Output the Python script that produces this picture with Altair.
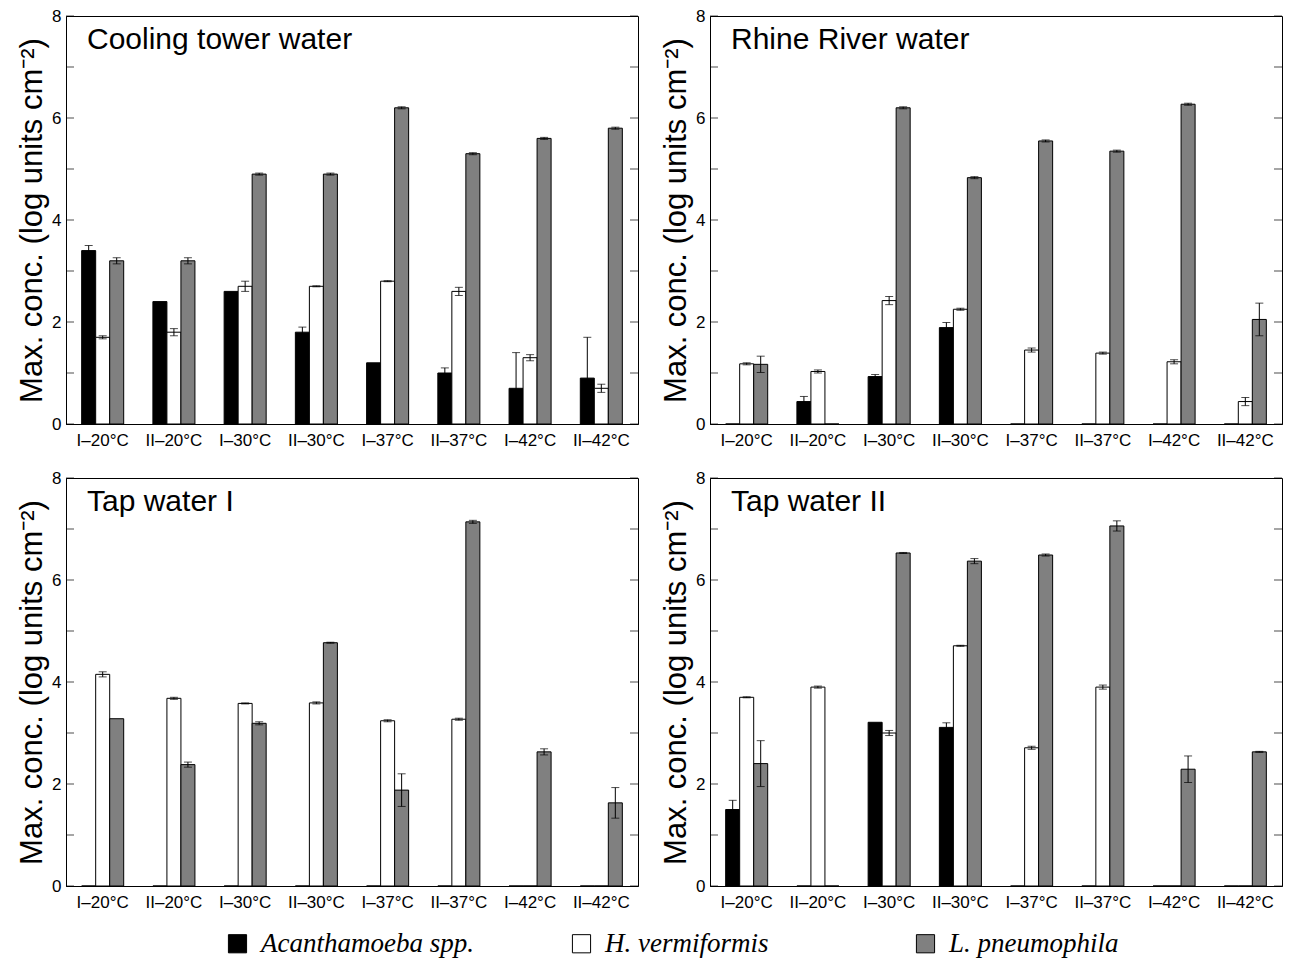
import altair as alt
import pandas as pd

temps = ["I–20°C", "II–20°C", "I–30°C", "II–30°C", "I–37°C", "II–37°C", "I–42°C", "II–42°C"]
species = ["Acanthamoeba spp.", "H. vermiformis", "L. pneumophila"]
panels = ["Cooling tower water", "Rhine River water", "Tap water I", "Tap water II"]
fills = ["#000000", "#ffffff", "#808080"]

cooling_acanth = [3.40, 2.40, 2.60, 1.80, 1.20, 1.00, 0.70, 0.90]
cooling_acanth_err = [0.10, 0.00, 0.00, 0.10, 0.00, 0.10, 0.70, 0.80]
cooling_hverm = [1.70, 1.80, 2.70, 2.70, 2.80, 2.60, 1.30, 0.70]
cooling_hverm_err = [0.03, 0.07, 0.10, 0.01, 0.01, 0.08, 0.06, 0.08]
cooling_lpneu = [3.20, 3.20, 4.90, 4.90, 6.20, 5.30, 5.60, 5.80]
cooling_lpneu_err = [0.06, 0.06, 0.02, 0.02, 0.02, 0.02, 0.02, 0.02]

rhine_acanth = [0.00, 0.44, 0.93, 1.89, 0.00, 0.00, 0.00, 0.00]
rhine_acanth_err = [0.00, 0.10, 0.04, 0.10, 0.00, 0.00, 0.00, 0.00]
rhine_hverm = [1.18, 1.03, 2.42, 2.25, 1.45, 1.39, 1.22, 0.44]
rhine_hverm_err = [0.02, 0.03, 0.08, 0.02, 0.04, 0.02, 0.04, 0.08]
rhine_lpneu = [1.17, 0.00, 6.20, 4.83, 5.55, 5.35, 6.27, 2.05]
rhine_lpneu_err = [0.16, 0.00, 0.02, 0.02, 0.02, 0.02, 0.02, 0.32]

tap1_acanth = [0.00, 0.00, 0.00, 0.00, 0.00, 0.00, 0.00, 0.00]
tap1_acanth_err = [0.00, 0.00, 0.00, 0.00, 0.00, 0.00, 0.00, 0.00]
tap1_hverm = [4.15, 3.68, 3.58, 3.59, 3.24, 3.27, 0.00, 0.00]
tap1_hverm_err = [0.05, 0.02, 0.01, 0.02, 0.02, 0.02, 0.00, 0.00]
tap1_lpneu = [3.28, 2.38, 3.19, 4.77, 1.88, 7.14, 2.63, 1.63]
tap1_lpneu_err = [0.00, 0.05, 0.03, 0.01, 0.32, 0.03, 0.06, 0.30]

tap2_acanth = [1.50, 0.00, 3.21, 3.11, 0.00, 0.00, 0.00, 0.00]
tap2_acanth_err = [0.18, 0.00, 0.00, 0.09, 0.00, 0.00, 0.00, 0.00]
tap2_hverm = [3.70, 3.90, 3.00, 4.71, 2.71, 3.90, 0.00, 0.00]
tap2_hverm_err = [0.01, 0.02, 0.05, 0.01, 0.03, 0.04, 0.00, 0.00]
tap2_lpneu = [2.40, 0.00, 6.53, 6.37, 6.49, 7.06, 2.29, 2.63]
tap2_lpneu_err = [0.45, 0.00, 0.01, 0.05, 0.02, 0.10, 0.26, 0.01]

y_tick_values = [0, 1, 2, 3, 4, 5, 6, 7, 8]

series = {
    panels[0]: [(cooling_acanth, cooling_acanth_err), (cooling_hverm, cooling_hverm_err), (cooling_lpneu, cooling_lpneu_err)],
    panels[1]: [(rhine_acanth, rhine_acanth_err), (rhine_hverm, rhine_hverm_err), (rhine_lpneu, rhine_lpneu_err)],
    panels[2]: [(tap1_acanth, tap1_acanth_err), (tap1_hverm, tap1_hverm_err), (tap1_lpneu, tap1_lpneu_err)],
    panels[3]: [(tap2_acanth, tap2_acanth_err), (tap2_hverm, tap2_hverm_err), (tap2_lpneu, tap2_lpneu_err)],
}

rows = []
for p in panels:
    for sp, (vals, errs) in zip(species, series[p]):
        for t, v, e in zip(temps, vals, errs):
            rows.append({"panel": p, "temp": t, "species": sp, "value": v, "err": e,
                         "lo": v - e, "hi": v + e})
df = pd.DataFrame(rows)
ticks_df = pd.DataFrame({"v": y_tick_values})

FONT = "Liberation Sans"
W, H = 572, 408
TICK = 8

x_enc = alt.X("temp:N", sort=temps,
              scale=alt.Scale(paddingInner=0.41, paddingOuter=0.22),
              axis=alt.Axis(title=None, labelAngle=0, labelFontSize=17, labelFont=FONT,
                            labelColor="black", tickSize=0, labelPadding=8,
                            domainColor="black"))
xo_enc = alt.XOffset("species:N", sort=species, scale=alt.Scale(domain=species))
y_scale = alt.Scale(domain=[0, 8], nice=False)


def panel(name):
    base = alt.Chart(df).transform_filter(alt.datum.panel == name)
    bars = base.mark_bar(stroke="black", strokeWidth=1).encode(
        x=x_enc,
        xOffset=xo_enc,
        y=alt.Y("value:Q", scale=y_scale,
                axis=alt.Axis(title="Max. conc. (log units cm⁻²)", values=y_tick_values,
                              labelExpr="datum.value % 2 == 0 ? datum.label : ''",
                              tickSize=0, grid=False, labelFontSize=17, labelFont=FONT,
                              labelColor="black", labelPadding=5, titleFont=FONT,
                              titleFontSize=31, titleFontWeight="normal", titleColor="black",
                              titlePadding=3, domainColor="black")),
        fill=alt.Fill("species:N", sort=species,
                      scale=alt.Scale(domain=species, range=fills),
                      legend=alt.Legend(title=None, orient="none", direction="horizontal",
                                        legendX=158, legendY=914, symbolType="square",
                                        symbolSize=330, symbolStrokeColor="black",
                                        symbolStrokeWidth=1, labelFont="Liberation Serif",
                                        labelFontStyle="italic", labelFontSize=27,
                                        labelColor="black", labelOffset=10,
                                        gridAlign="all", columnPadding=94,
                                        labelLimit=400, padding=0)),
    )
    eb = base.transform_filter(alt.datum.err > 0)
    rule = eb.mark_rule(color="black", strokeWidth=1).encode(
        x=x_enc, xOffset=xo_enc, y=alt.Y("lo:Q", scale=y_scale), y2="hi:Q")
    cap_hi = eb.mark_tick(color="black", orient="horizontal", size=8, thickness=1).encode(
        x=x_enc, xOffset=xo_enc, y=alt.Y("hi:Q", scale=y_scale))
    cap_lo = eb.mark_tick(color="black", orient="horizontal", size=8, thickness=1).encode(
        x=x_enc, xOffset=xo_enc, y=alt.Y("lo:Q", scale=y_scale))
    lt = alt.Chart(ticks_df).mark_tick(color="black", orient="horizontal", size=TICK,
                                       thickness=1).encode(
        y=alt.Y("v:Q", scale=y_scale), x=alt.value(TICK / 2))
    rt = alt.Chart(ticks_df).mark_tick(color="black", orient="horizontal", size=TICK,
                                       thickness=1).encode(
        y=alt.Y("v:Q", scale=y_scale), x=alt.value(W - TICK / 2))
    title = alt.Chart(pd.DataFrame({"t": [name]})).mark_text(
        align="left", baseline="middle", font=FONT, fontSize=30, color="black").encode(
        text="t:N", x=alt.value(21), y=alt.value(24))
    return alt.layer(bars, rule, cap_hi, cap_lo, lt, rt, title).properties(width=W, height=H)


top = alt.hconcat(panel(panels[0]), panel(panels[1]), spacing=21)
bottom = alt.hconcat(panel(panels[2]), panel(panels[3]), spacing=21)
chart = alt.vconcat(top, bottom, spacing=19).properties(
    padding={"left": 16, "top": 6, "right": 8, "bottom": 5},
    background="white",
).configure_view(stroke="black", strokeWidth=1)

chart.save("out.html", embed_options={"renderer": "svg", "actions": False})
